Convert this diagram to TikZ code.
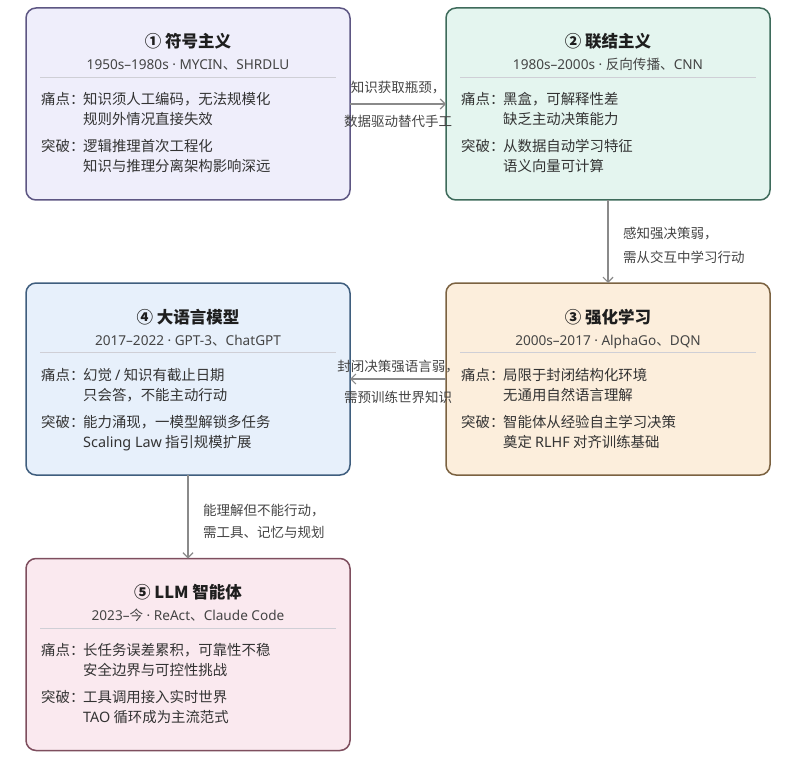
\documentclass[tikz,border=0pt]{standalone}
\usepackage{fontspec}
\setmainfont{Noto Sans CJK SC}
\newfontfamily\latf{Noto Sans}
\newcommand\lat[1]{{\latf #1}}
\usetikzlibrary{arrows.meta,calc}
\definecolor{fillA}{HTML}{EFEEFB}\definecolor{drawA}{HTML}{5D5683}
\definecolor{fillB}{HTML}{E4F5EF}\definecolor{drawB}{HTML}{3E6B5B}
\definecolor{fillC}{HTML}{FCEEDC}\definecolor{drawC}{HTML}{7B6241}
\definecolor{fillD}{HTML}{E7F0FB}\definecolor{drawD}{HTML}{3F5E7E}
\definecolor{fillE}{HTML}{FAE9EF}\definecolor{drawE}{HTML}{7E4E5E}
\definecolor{titlec}{HTML}{1E1E1E}
\definecolor{subc}{HTML}{444444}
\definecolor{bodyc}{HTML}{333333}
\definecolor{lblc}{HTML}{444444}
\definecolor{arrowc}{HTML}{8A8A8A}
\definecolor{sepc}{HTML}{CFCFD6}
\newcommand\stagebox[9]{%
  \node[box,#3] (#1) at (#2) {};
  \node[ttl] (#1t) at ($(#1.north)+(0,40)$) {#4};
  \node[subt] (#1s) at ($(#1.north)+(0,62)$) {#5};
  \draw[sepline] ($(#1.north west)+(14,69.5)$) -- ($(#1.north east)+(-14,69.5)$);
  \node[body] (#1pl) at ($(#1.north west)+(15,97)$) {痛点：};
  \node[body] (#1pa) at ($(#1.north west)+(57,97)$) {#6};
  \node[body] (#1pb) at ($(#1.north west)+(57,117)$) {#7};
  \node[body] (#1bl) at ($(#1.north west)+(15,144)$) {突破：};
  \node[body] (#1ba) at ($(#1.north west)+(57,144)$) {#8};
  \node[body] (#1bb) at ($(#1.north west)+(57,164)$) {#9};
}
\begin{document}
\begin{tikzpicture}[x=1pt,y=-1pt,
  box/.style={line width=1.5pt, rounded corners=10pt, minimum width=324pt, minimum height=192pt, inner sep=0pt, outer sep=0pt},
  sA/.style={draw=drawA, fill=fillA},
  sB/.style={draw=drawB, fill=fillB},
  sC/.style={draw=drawC, fill=fillC},
  sD/.style={draw=drawD, fill=fillD},
  sE/.style={draw=drawE, fill=fillE},
  ttl/.style={anchor=base, inner sep=0pt, text=titlec, font=\fontsize{16.5}{19}\selectfont\bfseries},
  subt/.style={anchor=base, inner sep=0pt, text=subc, font=\fontsize{13.6}{16}\selectfont},
  body/.style={anchor=base west, inner sep=0pt, text=bodyc, font=\fontsize{14.4}{17}\selectfont},
  lbl/.style={inner sep=0pt, text=lblc, font=\fontsize{13.5}{16}\selectfont},
  sepline/.style={draw=sepc, line width=0.8pt},
  conn/.style={draw=arrowc, line width=1.2pt, -{Straight Barb[length=5pt,width=10pt]}}]
\useasboundingbox (0,0) rectangle (797,767);
\stagebox{b1}{188,104}{sA}{① 符号主义}{\lat{1950s–1980s · MYCIN}、\lat{SHRDLU}}{知识须人工编码，无法规模化}{规则外情况直接失效}{逻辑推理首次工程化}{知识与推理分离架构影响深远}
\stagebox{b2}{608,104}{sB}{② 联结主义}{\lat{1980s–2000s · }反向传播、\lat{CNN}}{黑盒，可解释性差}{缺乏主动决策能力}{从数据自动学习特征}{语义向量可计算}
\stagebox{b3}{608,379}{sC}{③ 强化学习}{\lat{2000s–2017 · AlphaGo}、\lat{DQN}}{局限于封闭结构化环境}{无通用自然语言理解}{智能体从经验自主学习决策}{奠定 \lat{RLHF} 对齐训练基础}
\stagebox{b4}{188,379}{sD}{④ 大语言模型}{\lat{2017–2022 · GPT-3}、\lat{ChatGPT}}{幻觉 \lat{/} 知识有截止日期}{只会答，不能主动行动}{能力涌现，一模型解锁多任务}{\lat{Scaling Law} 指引规模扩展}
\stagebox{b5}{188,654.5}{sE}{⑤ LLM 智能体}{\lat{2023–}今\lat{ · ReAct}、\lat{Claude Code}}{长任务误差累积，可靠性不稳}{安全边界与可控性挑战}{工具调用接入实时世界}{\lat{TAO} 循环成为主流范式}
% connectors
\draw[conn] (b1.east) -- (b2.west);
\draw[conn] (b2.south) -- (b3.north);
\draw[conn] (b3.west) -- (b4.east);
\draw[conn] (b4.south) -- (b5.north);
% connector labels
\node[lbl, anchor=base] (l12a) at ($(b1.east)!0.5!(b2.west)+(0,-11)$) {知识获取瓶颈，};
\node[lbl, anchor=base] (l12b) at ($(b1.east)!0.5!(b2.west)+(0,23)$) {数据驱动替代手工};
\node[lbl, anchor=base west] (l23a) at ($(b2.south)+(15,39)$) {感知强决策弱，};
\node[lbl, anchor=base west] (l23b) at ($(b2.south)+(15,62)$) {需从交互中学习行动};
\node[lbl, anchor=base] (l34a) at ($(b3.west)!0.5!(b4.east)+(0,-8)$) {封闭决策强语言弱，};
\node[lbl, anchor=base] (l34b) at ($(b3.west)!0.5!(b4.east)+(0,23)$) {需预训练世界知识};
\node[lbl, anchor=base west] (l45a) at ($(b4.south)+(15,40)$) {能理解但不能行动，};
\node[lbl, anchor=base west] (l45b) at ($(b4.south)+(15,62)$) {需工具、记忆与规划};
\end{tikzpicture}
\end{document}
